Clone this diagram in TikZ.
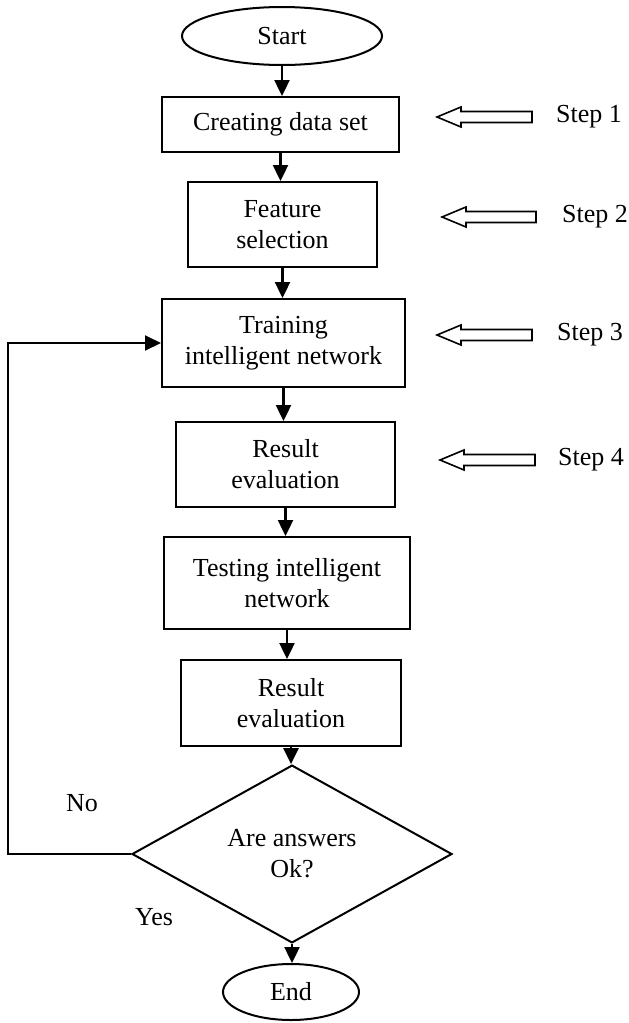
\documentclass[tikz,border=0pt]{standalone}
\usepackage{fontspec}
\setmainfont{Liberation Serif}
\usetikzlibrary{shapes.geometric,arrows.meta}
\newcommand\hollowarrow[3]{\draw[hollow] (#1,#3) -- (#1+24,#3-10) -- (#1+24,#3-5.5) -- (#2,#3-5.5) -- (#2,#3+5.5) -- (#1+24,#3+5.5) -- (#1+24,#3+10) -- cycle;}
\begin{document}
\begin{tikzpicture}[x=1pt,y=-1pt,
  every node/.style={font=\fontsize{26}{31}\selectfont},
  box/.style={draw,line width=2pt,rectangle,inner sep=0pt,align=center},
  term/.style={draw,line width=2pt,ellipse,inner sep=0pt},
  dec/.style={draw,line width=2pt,diamond,inner sep=0pt,align=center},
  arr/.style={line width=2.4pt,-{Triangle[length=16pt,width=15pt]}},
  fb/.style={line width=2pt,-{Triangle[length=16pt,width=15pt]}},
  hollow/.style={line width=1.6pt,line join=miter},
  lbl/.style={inner sep=0pt,anchor=west},
  plain/.style={inner sep=0pt}]
\useasboundingbox (0,0) rectangle (629,1023);
\node[term,minimum width=200pt,minimum height=58pt] (start) at (282,36) {Start};
\node[box,minimum width=237pt,minimum height=55pt] (b1) at (280.5,124.5) {Creating data set};
\node[box,minimum width=189pt,minimum height=85pt] (b2) at (282.5,224.5) {Feature\\selection};
\node[box,minimum width=243pt,minimum height=88pt] (b3) at (283.5,343) {Training\\intelligent network};
\node[box,minimum width=219pt,minimum height=85pt] (b4) at (285.5,464.5) {Result\\evaluation};
\node[box,minimum width=246pt,minimum height=92pt] (b5) at (287,583) {Testing intelligent\\network};
\node[box,minimum width=220pt,minimum height=86pt] (b6) at (291,703) {Result\\evaluation};
\node[dec,minimum width=320pt,minimum height=155pt] (dec) at (292,854) {Are answers\\Ok?};
\node[term,minimum width=136pt,minimum height=56pt] (end) at (291,992) {End};
\draw[arr] (start.south) -- (start.south |- b1.north);
\draw[arr] (b1.south) -- (b1.south |- b2.north);
\draw[arr] (b2.south) -- (b2.south |- b3.north);
\draw[arr] (b3.south) -- (b3.south |- b4.north);
\draw[arr] (b4.south) -- (b4.south |- b5.north);
\draw[arr] (b5.south) -- (b5.south |- b6.north);
\draw[arr] (b6.south) -- (b6.south |- dec.north);
\draw[arr] (dec.south) -- (dec.south |- end.north);
\coordinate (fl) at (8,0);
\draw[fb] (dec.west) -- (dec.west -| fl) |- (b3.west);
\node[plain] (no) at (82,803) {No};
\node[plain] (yes) at (154,917) {Yes};
\node[lbl] (s1) at (556,117) {Step 1};
\node[lbl] (s2) at (562,217) {Step 2};
\node[lbl] (s3) at (557,335) {Step 3};
\node[lbl] (s4) at (558,460) {Step 4};
\hollowarrow{437}{532}{117}
\hollowarrow{442}{536}{217}
\hollowarrow{437}{532}{335}
\hollowarrow{440}{535}{460}
\end{tikzpicture}
\end{document}
